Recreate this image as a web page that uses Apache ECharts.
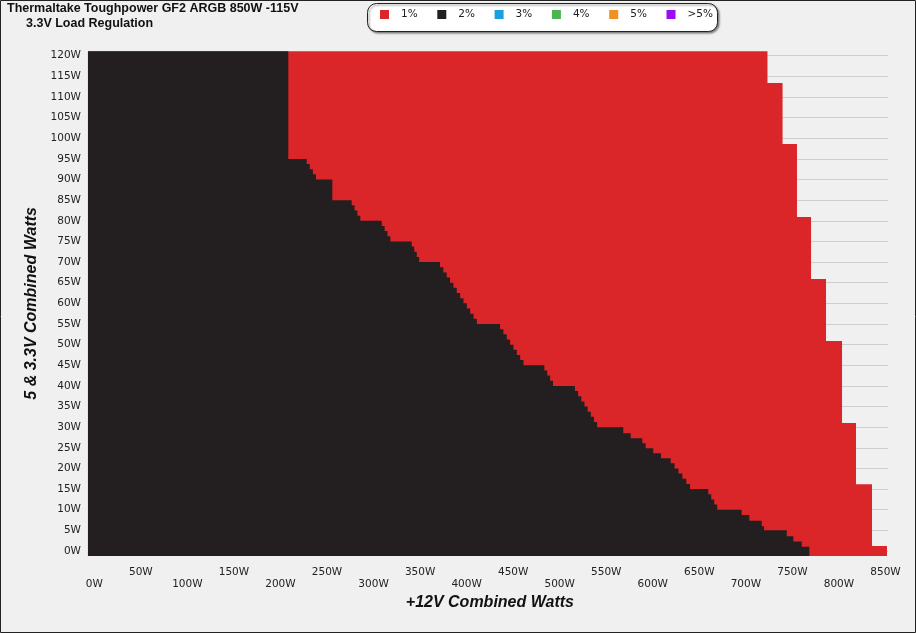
<!DOCTYPE html>
<html><head><meta charset="utf-8">
<script src="https://cdn.jsdelivr.net/npm/echarts@6/dist/echarts.min.js"></script>
<style>html,body{margin:0;padding:0;background:#f0f0f0}#c{width:916px;height:633px}</style>
</head><body><div id="c"></div>
<script>
const titleText = 'Thermaltake Toughpower GF2 ARGB 850W -115V';
const subtitleText = '3.3V Load Regulation';
const xAxisName = '+12V Combined Watts';
const yAxisName = '5 & 3.3V Combined Watts';
const legendNames = ['1%', '2%', '3%', '4%', '5%', '>5%'];
const legendColors = ['#da2529', '#231f20', '#1aa0dc', '#4db453', '#f29120', '#9a0cf5'];
const xTicks = [0, 50, 100, 150, 200, 250, 300, 350, 400, 450, 500, 550, 600, 650, 700, 750, 800, 850];
const yTicks = [0, 5, 10, 15, 20, 25, 30, 35, 40, 45, 50, 55, 60, 65, 70, 75, 80, 85, 90, 95, 100, 105, 110, 115, 120];

// measured grid extent (W)
const gridStartW = -6.8;
const gridFloorW = -1.2;
const gridTopW = 121.1;

// 1% region: segment start on +12V (W) and upper limit of 5&3.3V (W)
const redStartW = [-6.8, 723.2, 739.4, 754.9, 770.0, 786.1, 803.3, 818.3, 835.5];
const redTopW = [121.1, 113.4, 98.6, 80.9, 65.9, 50.9, 31.0, 16.2, 1.2];
const redEndW = 851.6;

// 2% region
const blackStartW = [-6.8, 208.4, 228.2, 231.5, 234.8, 238.1, 255.7, 276.5, 279.6, 282.7, 285.8,
  308.8, 311.9, 315.0, 318.1, 341.0, 343.7, 346.4, 349.0, 371.4, 375.0, 378.6, 382.2, 385.8,
  389.4, 393.0, 396.6, 400.2, 403.8, 407.4, 411.0, 435.9, 439.5, 443.1, 446.7, 450.3, 453.9,
  457.5, 461.1, 483.5, 486.6, 489.7, 492.8, 516.4, 519.8, 523.2, 526.6, 530.0, 533.4, 536.8,
  540.2, 568.3, 576.3, 588.7, 592.3, 600.5, 608.8, 619.2, 623.4, 627.6, 631.8, 636.0, 640.0,
  659.6, 662.8, 666.0, 669.2, 695.5, 703.7, 717.0, 719.5, 743.9, 751.0, 760.0];
const blackTopW = [121.1, 95, 93.75, 92.5, 91.25, 90, 85, 83.75, 82.5, 81.25, 80,
  78.75, 77.5, 76.25, 75, 73.75, 72.5, 71.25, 70, 68.75, 67.5, 66.25, 65, 63.75,
  62.5, 61.25, 60, 58.75, 57.5, 56.25, 55, 53.75, 52.5, 51.25, 50, 48.75, 47.5,
  46.25, 45, 43.75, 42.5, 41.25, 40, 38.75, 37.5, 36.25, 35, 33.75, 32.5, 31.25,
  30, 28.5, 27.3, 26.1, 24.9, 23.7, 22.5, 21.25, 20, 18.75, 17.5, 16.25, 15,
  13.75, 12.5, 11.25, 10, 8.7, 7.3, 6.0, 5, 3.6, 2.3, 1.0];
const blackEndW = 768.2;

function stepPolygon(starts, tops, end, floor) {
  const pts = [[starts[0], floor]];
  for (let i = 0; i < starts.length; i++) {
    const x1 = i + 1 < starts.length ? starts[i + 1] : end;
    pts.push([starts[i], tops[i]]);
    pts.push([x1, tops[i]]);
  }
  pts.push([end, floor]);
  return pts;
}
const redPoly = stepPolygon(redStartW, redTopW, redEndW, gridFloorW);
const blackPoly = stepPolygon(blackStartW, blackTopW, blackEndW, gridFloorW);

function regionSeries(name, color, poly) {
  return {
    type: 'custom', name: name, coordinateSystem: 'cartesian2d', xAxisIndex: 0, yAxisIndex: 0,
    itemStyle: { color: color }, silent: true, clip: false,
    data: poly.length ? [[0, 0]] : [],
    renderItem: function (params, api) {
      return { type: 'polygon', shape: { points: poly.map(p => api.coord(p)) },
        style: { fill: color, stroke: null } };
    }
  };
}

const FONT = 'DejaVu Sans';
const series = [
  regionSeries(legendNames[0], legendColors[0], redPoly),
  regionSeries(legendNames[1], legendColors[1], blackPoly)
];
for (let i = 2; i < legendNames.length; i++) series.push(regionSeries(legendNames[i], legendColors[i], []));

const legendBoxLeft = 367, legendItemLeft = 380, legendItemStep = 57.3;
const legends = legendNames.map((n, i) => ({
  data: [n], left: legendItemLeft + i * legendItemStep, top: 9, padding: 0,
  itemWidth: 9, itemHeight: 9, icon: 'rect', selectedMode: false, z: 10,
  textStyle: { fontFamily: FONT, fontSize: 10.5, color: '#222', padding: [0, 0, 0, 7] }
}));

const chart = echarts.init(document.getElementById('c'), null, { renderer: 'canvas' });
chart.setOption({
  animation: false,
  backgroundColor: '#f0f0f0',
  color: legendColors,
  title: [
    { text: titleText, left: 7, top: 2, padding: 0,
      textStyle: { fontFamily: 'Liberation Sans', fontWeight: 'bold', fontSize: 12.5, color: '#111' } },
    { text: subtitleText, left: 26, top: 17, padding: 0,
      textStyle: { fontFamily: 'Liberation Sans', fontWeight: 'bold', fontSize: 12.5, color: '#111' } }
  ],
  legend: legends,
  grid: [
    { left: 94.3, right: 30.5, top: 55.7, bottom: 82 },
    { left: 88, right: 28, top: 55.7, bottom: 82 }
  ],
  xAxis: [
    { type: 'value', gridIndex: 0, min: xTicks[0], max: xTicks[xTicks.length - 1], interval: 50, offset: 5,
      name: xAxisName, nameLocation: 'middle', nameGap: 33,
      nameTextStyle: { fontFamily: 'Liberation Sans', fontWeight: 'bold', fontStyle: 'italic', fontSize: 16, color: '#111' },
      axisLine: { show: true, lineStyle: { color: '#333', width: 1 } },
      axisTick: { show: true, length: 4, lineStyle: { color: '#333' } },
      minorTick: { show: true, splitNumber: 4, length: 4, lineStyle: { color: '#333' } },
      splitLine: { show: false },
      axisLabel: { margin: 10, fontFamily: FONT, fontSize: 10.5, color: '#222', lineHeight: 12,
        showMinLabel: true, showMaxLabel: true, hideOverlap: false,
        formatter: function (v) { return (Math.round(v / 50) % 2 === 1) ? v + 'W' : '\n' + v + 'W'; } } },
    { type: 'value', gridIndex: 1, min: 0, max: 850, show: false }
  ],
  yAxis: [
    { type: 'value', gridIndex: 0, min: yTicks[0], max: yTicks[yTicks.length - 1], interval: 5, offset: 6.3,
      name: yAxisName, nameLocation: 'middle', nameGap: 47,
      nameTextStyle: { fontFamily: 'Liberation Sans', fontWeight: 'bold', fontStyle: 'italic', fontSize: 16, color: '#111' },
      axisLine: { show: true, lineStyle: { color: '#333', width: 1 } },
      axisTick: { show: true, length: 4, lineStyle: { color: '#333' } },
      minorTick: { show: true, splitNumber: 5, length: 2, lineStyle: { color: '#555' } },
      splitLine: { show: false },
      axisLabel: { margin: 7, fontFamily: FONT, fontSize: 10.5, color: '#222', formatter: v => v + 'W' } },
    { type: 'value', gridIndex: 1, min: yTicks[0], max: yTicks[yTicks.length - 1], interval: 5,
      axisLine: { show: false }, axisTick: { show: false }, axisLabel: { show: false },
      splitLine: { show: true, lineStyle: { color: '#cfcfcf', width: 1 } } }
  ],
  graphic: [
    { type: 'rect', shape: { x: legendBoxLeft + 0.5, y: 3.5, width: 350, height: 28, r: 9 }, z: 5, silent: true,
      style: { fill: '#ffffff', stroke: '#222', lineWidth: 1,
        shadowColor: 'rgba(0,0,0,0.45)', shadowBlur: 2, shadowOffsetX: 1.5, shadowOffsetY: 1.5 } },
    { type: 'rect', shape: { x: 0.5, y: 0.5, width: 915, height: 632 },
      style: { fill: null, stroke: '#222', lineWidth: 1 }, silent: true, z: 100 }
  ],
  series: series
});
</script></body></html>
